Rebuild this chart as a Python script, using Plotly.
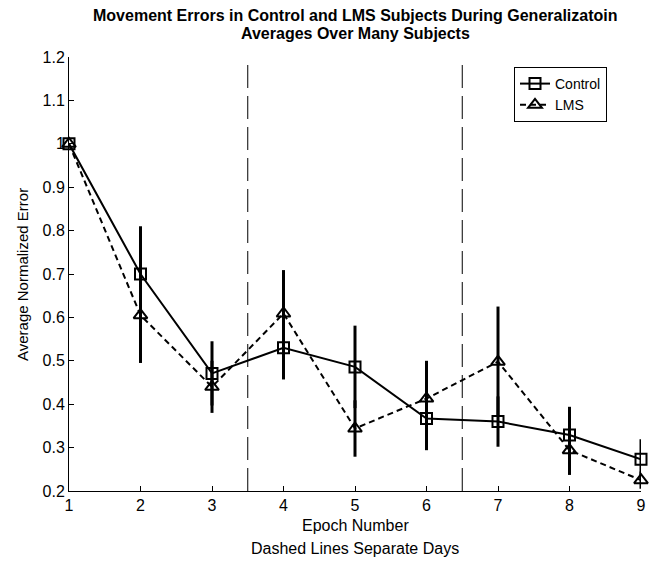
import plotly.graph_objects as go

epochs = [1, 2, 3, 4, 5, 6, 7, 8, 9]
control_mean = [1.0, 0.70, 0.471, 0.530, 0.486, 0.367, 0.360, 0.329, 0.273]
control_err = [0.0, 0.11, 0.074, 0.073, 0.095, 0.073, 0.058, 0.065, 0.046]
lms_mean = [1.0, 0.605, 0.440, 0.609, 0.344, 0.413, 0.498, 0.294, 0.225]
lms_err = [0.0, 0.11, 0.06, 0.10, 0.065, 0.087, 0.127, 0.057, 0.02]
day_separators = [3.5, 6.5]
y_ticks = [0.2, 0.3, 0.4, 0.5, 0.6, 0.7, 0.8, 0.9, 1.0, 1.1, 1.2]
y_tick_text = ["0.2", "0.3", "0.4", "0.5", "0.6", "0.7", "0.8", "0.9", "1", "1.1", "1.2"]

FONT = "Liberation Sans, Arial, sans-serif"

# page body has an 8px margin: figure is sized so the plot lands where the reference has it
OFF = 8
W, H = 649, 557
ML, MR, MT, MB = 61, 16, 49, 74
PW = W - ML - MR
PH = H - MT - MB


def py(page_y):
    """page pixel y -> paper y"""
    return (H - MB - (page_y - OFF)) / PH


def px(page_x):
    return (page_x - OFF - ML) / PW


fig = go.Figure()
fig.add_trace(go.Scatter(
    x=epochs, y=control_mean, name="Control", mode="lines+markers",
    line=dict(color="black", width=2, dash="solid"),
    marker=dict(symbol="square-open", size=11, color="black", line=dict(width=2)),
    error_y=dict(type="data", array=control_err, visible=True, thickness=3, width=0, color="black"),
    cliponaxis=False,
))
fig.add_trace(go.Scatter(
    x=epochs, y=lms_mean, name="LMS", mode="lines+markers",
    line=dict(color="black", width=2, dash="6px,4px"),
    marker=dict(symbol="triangle-up-open", size=12, color="black", line=dict(width=2)),
    error_y=dict(type="data", array=lms_err, visible=True, thickness=3, width=0, color="black"),
    cliponaxis=False,
))

for xs in day_separators:
    fig.add_shape(type="line", xref="x", yref="y", x0=xs, x1=xs, y0=0.2, y1=1.2,
                  line=dict(color="black", width=1, dash="23px,8px"))

annotations = [
    dict(text="<b>Movement Errors in Control and LMS Subjects During Generalizatoin</b>",
         xref="paper", yref="paper", x=0.5, y=py(15), xanchor="center", yanchor="middle",
         height=18, borderpad=0,
         showarrow=False, font=dict(family=FONT, size=16, color="black")),
    dict(text="<b>Averages Over Many Subjects</b>",
         xref="paper", yref="paper", x=0.5, y=py(33), xanchor="center", yanchor="middle",
         height=18, borderpad=0,
         showarrow=False, font=dict(family=FONT, size=16, color="black")),
    dict(text="Epoch Number",
         xref="paper", yref="paper", x=0.5, y=py(525), xanchor="center", yanchor="middle",
         showarrow=False, font=dict(family=FONT, size=16, color="black")),
    dict(text="Dashed Lines Separate Days",
         xref="paper", yref="paper", x=0.5, y=py(548), xanchor="center", yanchor="middle",
         showarrow=False, font=dict(family=FONT, size=16, color="black")),
    dict(text="Average Normalized Error", textangle=-90,
         xref="paper", yref="paper", x=px(22), y=py(275),
         xanchor="center", yanchor="middle",
         showarrow=False, font=dict(family=FONT, size=15, color="black")),
]

fig.update_layout(
    width=W, height=H,
    paper_bgcolor="white", plot_bgcolor="white",
    margin=dict(l=ML, r=MR, t=MT, b=MB, autoexpand=False),
    font=dict(family=FONT, size=16, color="black"),
    showlegend=True,
    legend=dict(
        x=px(607), y=py(67), xanchor="right", yanchor="top",
        bordercolor="black", borderwidth=1, bgcolor="white",
        font=dict(family=FONT, size=14),
        tracegroupgap=0, itemwidth=30,
    ),
    annotations=annotations,
    xaxis=dict(
        range=[1, 9], tickmode="array", tickvals=epochs,
        ticks="inside", ticklen=5, tickcolor="black",
        showline=True, linecolor="black", linewidth=1, mirror=False,
        showgrid=False, zeroline=False,
        tickfont=dict(family=FONT, size=16),
    ),
    yaxis=dict(
        range=[0.2, 1.2], tickmode="array", tickvals=y_ticks, ticktext=y_tick_text,
        ticks="inside", ticklen=5, tickcolor="black",
        showline=True, linecolor="black", linewidth=1, mirror=False,
        showgrid=False, zeroline=False,
        tickfont=dict(family=FONT, size=16),
    ),
)

fig.write_html("out.html")
